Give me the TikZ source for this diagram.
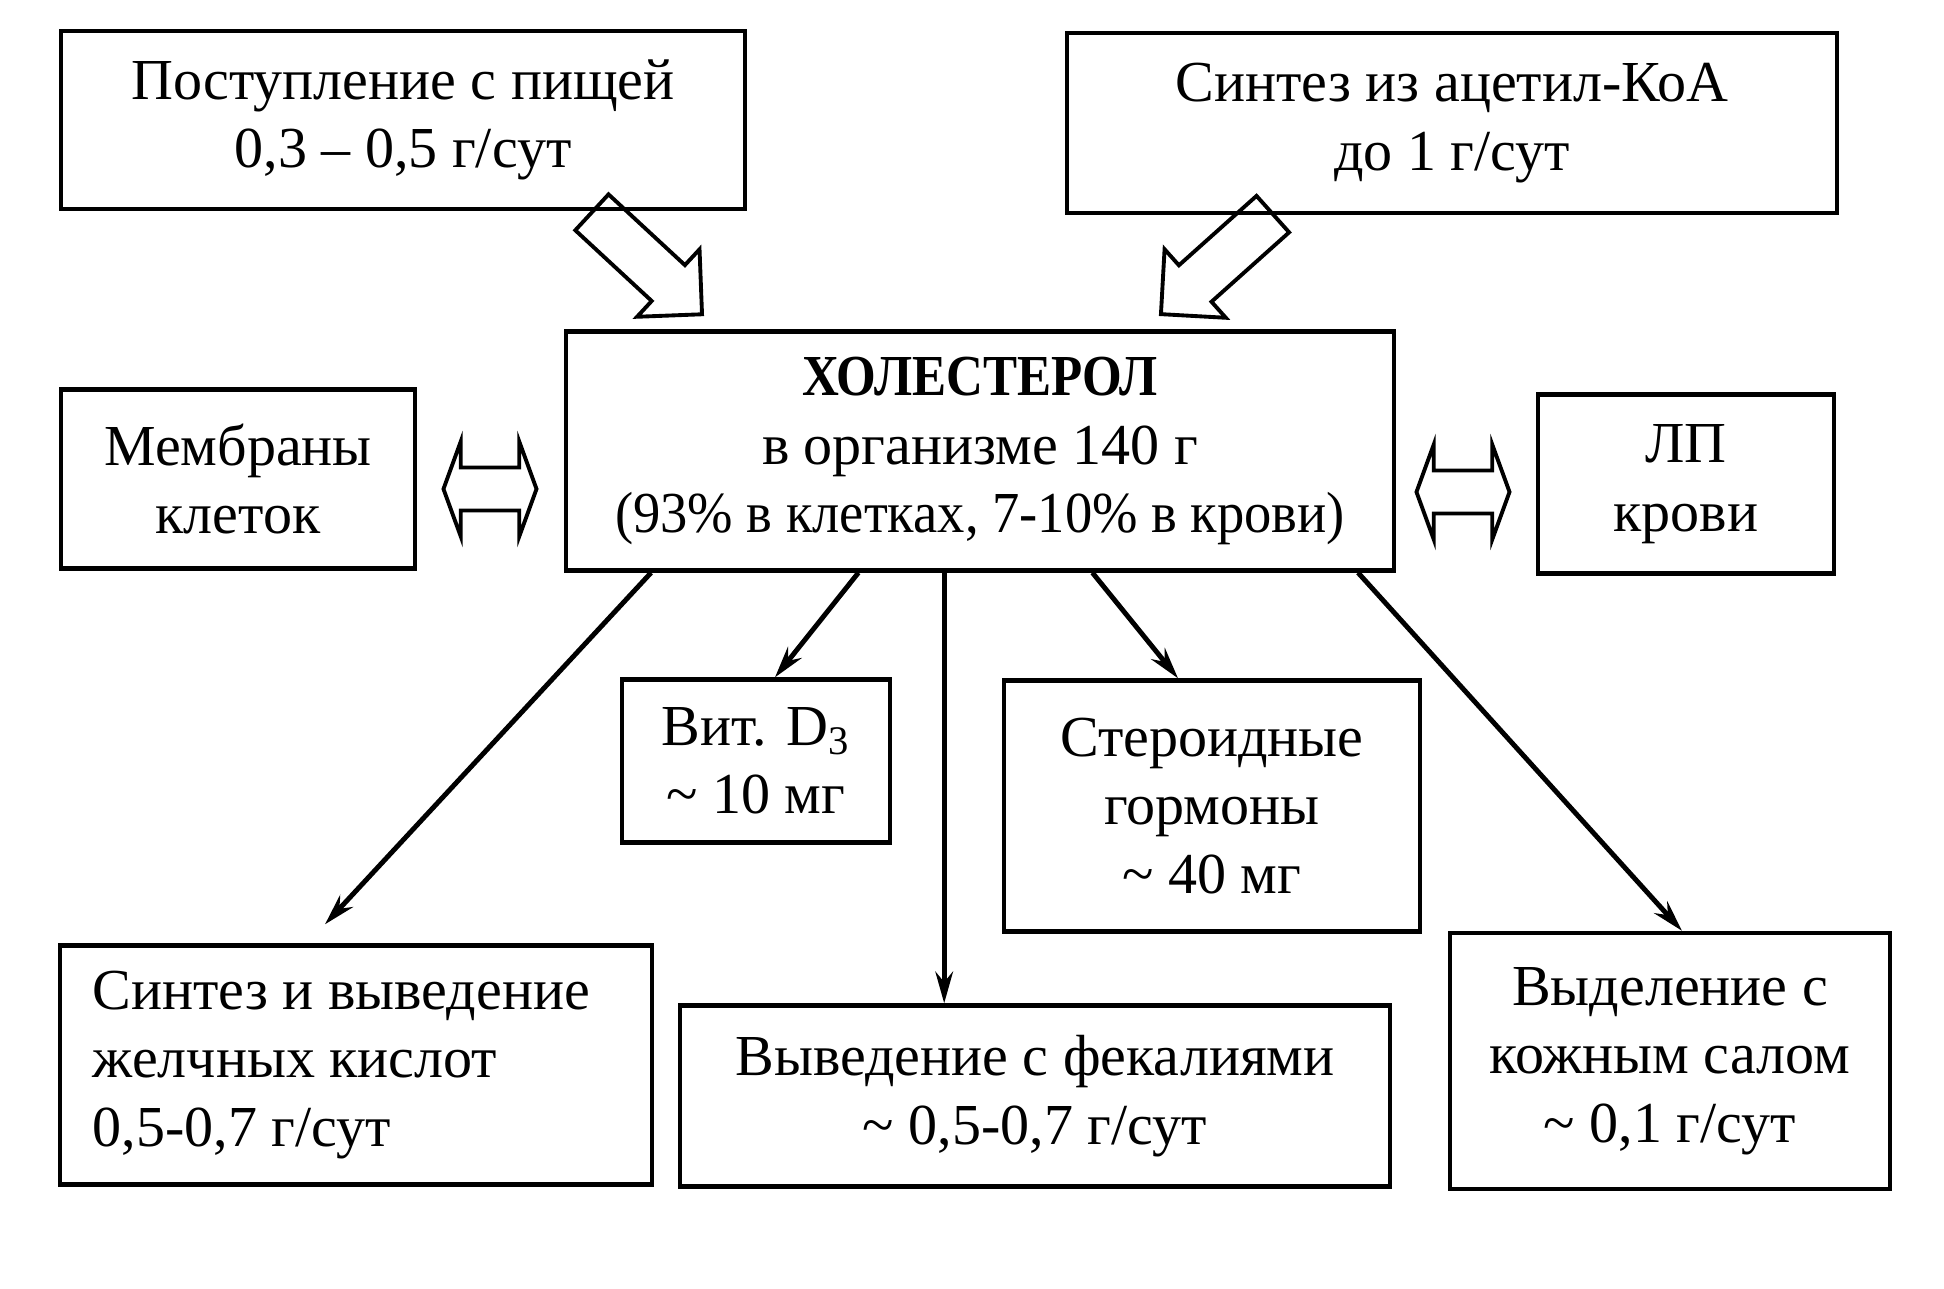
\documentclass[tikz,border=0pt]{standalone}
\usepackage{fontspec}
\setmainfont{Liberation Serif}
\usetikzlibrary{arrows.meta,shapes.arrows,calc}
\begin{document}
\begin{tikzpicture}[x=0.01cm,y=-0.01cm,
	box/.style={draw, line width=1.2pt, align=center, inner sep=0pt, font=\fontsize{16.5}{19.5}\selectfont},
	flow/.style={line width=1.4pt, -{Stealth[length=9pt,width=5pt,inset=3pt]}},
	bigarrow/.style={draw, line width=1.1pt, single arrow, inner xsep=0pt, inner ysep=0.225cm, single arrow head extend=0.215cm, minimum width=0pt, minimum height=1.5cm},
	swaparrow/.style={draw, line width=1.1pt, double arrow, inner xsep=0pt, inner ysep=0.195cm, double arrow head extend=0.26cm, double arrow tip angle=140, minimum width=0pt, minimum height=0.93cm}]
	\useasboundingbox (0,0) rectangle (1944,1289);
	% boxes
	\node[box, minimum width=6.83cm, minimum height=1.78cm] (intake) at (403,120) {Поступление с пищей\\0,3 – 0,5 г/сут};
	\node[box, minimum width=7.7cm, minimum height=1.8cm] (synth) at (1452,123) {Синтез из ацетил-КоА\\до 1 г/сут};
	\node[box, minimum width=8.28cm, minimum height=2.39cm] (chol) at (980,451) {{\addfontfeature{FakeStretch=0.88}\textbf{ХОЛЕСТЕРОЛ}}\\в организме 140 г\\{\addfontfeature{FakeStretch=0.94}(93\% в клетках, 7-10\% в крови)}};
	\node[box, minimum width=3.54cm, minimum height=1.79cm] (memb) at (238,479) {Мембраны\\клеток};
	\node[box, minimum width=2.96cm, minimum height=1.79cm] (lp) at (1686,484) {ЛП\\крови};
	\node[box, minimum width=2.68cm, minimum height=1.63cm] (vitd) at (756,761) {Вит. D\textsubscript{3}\\\textasciitilde\ 10 мг};
	\node[box, minimum width=4.16cm, minimum height=2.51cm] (ster) at (1212,806) {Стероидные\\гормоны\\\textasciitilde\ 40 мг};
	\node[box, align=flush left, inner xsep=0.33cm, text width=5.26cm, minimum height=2.39cm] (bile) at (356,1065) {Синтез и выведение\\желчных кислот\\0,5-0,7 г/сут};
	\node[box, minimum width=7.09cm, minimum height=1.81cm] (feces) at (1035,1096) {Выведение с фекалиями\\\textasciitilde\ 0,5-0,7 г/сут};
	\node[box, minimum width=4.4cm, minimum height=2.56cm] (sebum) at (1670,1061) {Выделение с\\кожным салом\\\textasciitilde\ 0,1 г/сут};
	% hollow arrows
	\node[bigarrow, rotate=-42.8] (inA) at (638,255) {};
	\node[bigarrow, rotate=-138.2] (inB) at (1226,256) {};
	\node[swaparrow] (swapA) at (490,489) {};
	\node[swaparrow] (swapB) at (1463,492) {};
	% outflows
	\coordinate (o1) at ($(chol.south west)!0.105!(chol.south east)$);
	\coordinate (o2) at ($(chol.south west)!0.354!(chol.south east)$);
	\coordinate (o3) at ($(chol.south west)!0.457!(chol.south east)$);
	\coordinate (o4) at ($(chol.south west)!0.635!(chol.south east)$);
	\coordinate (o5) at ($(chol.south west)!0.954!(chol.south east)$);
	\draw[flow] (o1) -- ($(bile.north)+(-31,-19)$);
	\draw[flow] (o2) -- ($(vitd.north)+(19,0)$);
	\draw[flow] (o3) -- (o3 |- feces.north);
	\draw[flow] (o4) -- ($(ster.north)+(-34,0)$);
	\draw[flow] (o5) -- ($(sebum.north)+(12,0)$);
\end{tikzpicture}
\end{document}
